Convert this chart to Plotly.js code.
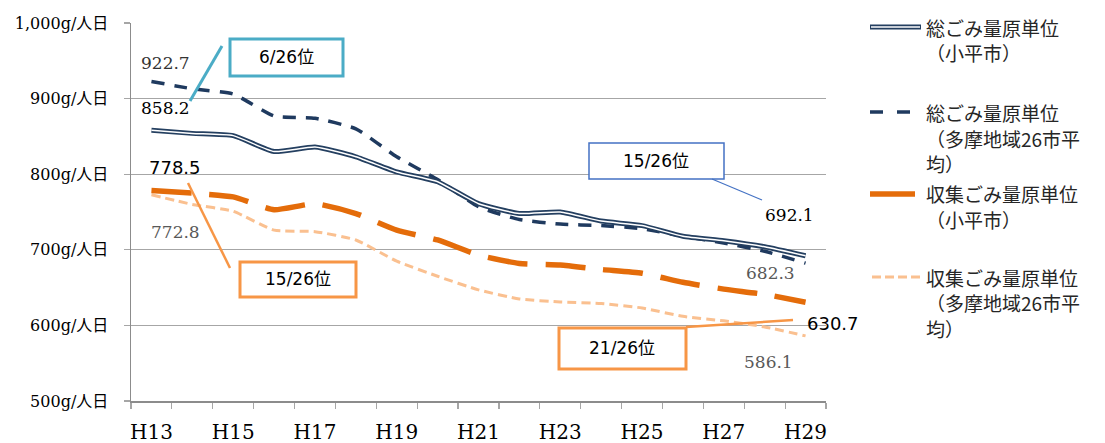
<!DOCTYPE html>
<html>
<head>
<meta charset="utf-8">
<script src="https://cdn.plot.ly/plotly-3.0.1.min.js"></script>
<style>html,body{margin:0;padding:0;background:#fff;}#chart{width:1105px;height:443px;}</style>
</head>
<body>
<div id="chart"></div>
<script>
// ---- data ----
const categories = ['H13','H14','H15','H16','H17','H18','H19','H20','H21','H22','H23','H24','H25','H26','H27','H28','H29'];
const xTickLabels = ['H13','','H15','','H17','','H19','','H21','','H23','','H25','','H27','','H29'];
const yTickVals = [500, 600, 700, 800, 900, 1000];
const yTickLabels = ['500g/人日','600g/人日','700g/人日','800g/人日','900g/人日','1,000g/人日'];

const totalKodaira   = [858.2, 854, 851, 830, 836, 823, 803, 790, 761, 748, 750, 738, 732, 718, 712, 704, 692.1];
const totalTama      = [922.7, 913, 906, 877, 874, 860, 823, 793, 757, 740, 734, 732, 728, 718, 709, 698, 682.3];
const collectKodaira = [778.5, 775, 770, 753, 761, 748, 726, 713, 693, 682, 680, 674, 669, 657, 648, 641, 630.7];
const collectTama    = [772.8, 760, 751, 726, 724, 713, 685, 665, 647, 635, 631, 629, 623, 612, 606, 598, 586.1];

const seriesNames = [
  ['総ごみ量原単位', '（小平市）'],
  ['総ごみ量原単位', '（多摩地域26市平', '均）'],
  ['収集ごみ量原単位', '（小平市）'],
  ['収集ごみ量原単位', '（多摩地域26市平', '均）']
];
const rankLabels = ['6/26位', '15/26位', '15/26位', '21/26位'];

// ---- styling ----
const NAVY = '#243F60', NAVY_D = '#1F3A5F', ORANGE = '#E46C0A', LORANGE = '#FAC090';
const TEAL = '#4BACC6', BLUE = '#4472C4', ORANGE_BOX = '#F79646';
const L = 131, R = 826, T = 23, B = 401;
const px = x => (x - L) / (R - L);
const py = y => (B - y) / (B - T);
const SERIF = 'DejaVu Serif, Liberation Serif, Noto Sans CJK JP, serif';
const SANS = 'DejaVu Sans, Noto Sans CJK JP, sans-serif';
const JP = 'Noto Sans CJK JP, sans-serif';
const shp = {shape: 'spline', smoothing: 0.5};
const last = a => a[a.length - 1];

const traces = [
  {x: categories, y: collectTama, mode: 'lines', line: Object.assign({color: LORANGE, width: 3, dash: '9px,5px'}, shp)},
  {x: categories, y: collectKodaira, mode: 'lines', line: Object.assign({color: ORANGE, width: 5.5, dash: '40px,18px'}, shp)},
  {x: categories, y: totalTama, mode: 'lines', line: Object.assign({color: NAVY_D, width: 3.5, dash: '13px,10px'}, shp)},
  {x: categories, y: totalKodaira, mode: 'lines', line: Object.assign({color: NAVY, width: 5}, shp)},
  {x: categories, y: totalKodaira, mode: 'lines', line: Object.assign({color: '#FFFFFF', width: 1.5}, shp)}
];

function txt(text, x, y, opts) {
  return Object.assign({
    text: text, xref: 'paper', yref: 'paper', x: px(x), y: py(y),
    xanchor: 'left', yanchor: 'middle', showarrow: false,
    font: {family: SERIF, size: 17, color: '#000'}
  }, opts || {});
}

const annotations = [
  txt(totalTama[0].toFixed(1), 139, 63, {font: {family: SERIF, size: 17, color: '#333333'}}),
  txt(totalKodaira[0].toFixed(1), 139, 108),
  txt(collectKodaira[0].toFixed(1), 147, 167, {font: {family: SANS, size: 18, color: '#000'}}),
  txt(collectTama[0].toFixed(1), 149, 232, {font: {family: SERIF, size: 17, color: '#595959'}}),
  txt(last(totalKodaira).toFixed(1), 763, 215),
  txt(last(totalTama).toFixed(1), 744, 273, {font: {family: SERIF, size: 17, color: '#595959'}}),
  txt(last(collectKodaira).toFixed(1), 805, 323, {font: {family: SANS, size: 18, color: '#000'}}),
  txt(last(collectTama).toFixed(1), 742, 362, {font: {family: SERIF, size: 17, color: '#595959'}}),
  txt(rankLabels[0], 286, 57, {xanchor: 'center', font: {family: SANS, size: 17, color: '#000'}}),
  txt(rankLabels[1], 656, 161, {xanchor: 'center', font: {family: SANS, size: 17, color: '#000'}}),
  txt(rankLabels[2], 298, 279, {xanchor: 'center', font: {family: SANS, size: 17, color: '#000'}}),
  txt(rankLabels[3], 622, 348, {xanchor: 'center', font: {family: SANS, size: 17, color: '#000'}})
];

// legend text
const legendRows = [[27, 52], [112, 138, 163], [194, 219], [277, 302, 328]];
seriesNames.forEach((lines, i) => {
  lines.forEach((t, j) => {
    annotations.push(txt(t, 924, legendRows[i][j], {font: {family: JP, size: 19, color: '#262626'}}));
  });
});

function seg(x0, y0, x1, y1, color, width, dash) {
  return {type: 'line', xref: 'paper', yref: 'paper', x0: px(x0), y0: py(y0), x1: px(x1), y1: py(y1),
          line: {color: color, width: width, dash: dash || 'solid'}, layer: 'above'};
}
function box(x0, y0, x1, y1, color, width) {
  return {type: 'rect', xref: 'paper', yref: 'paper', x0: px(x0), y0: py(y0), x1: px(x1), y1: py(y1),
          line: {color: color, width: width}, fillcolor: '#FFFFFF', layer: 'above'};
}

const shapes = [
  box(230, 39, 343, 76, TEAL, 3),
  seg(190, 101, 222, 46, TEAL, 3),
  box(589, 143, 724, 179, BLUE, 1.5),
  seg(712, 179, 762, 200, BLUE, 1.2),
  box(240, 262, 356, 297, ORANGE_BOX, 3),
  seg(188, 183, 230, 268, ORANGE_BOX, 2.5),
  box(559, 328, 686, 369, ORANGE_BOX, 3),
  seg(686, 327, 793, 320, ORANGE_BOX, 2.5),
  // legend symbols
  seg(870, 27, 921, 27, NAVY, 5),
  seg(871, 27, 920, 27, '#FFFFFF', 1.5),
  seg(870, 112, 913, 112, NAVY_D, 3.5, '13px,14px'),
  seg(870, 194, 915, 194, ORANGE, 5.5),
  seg(872, 277, 924, 277, LORANGE, 3, '9px,4px')
];

const layout = {
  width: 1105, height: 443,
  margin: {l: L, r: 1105 - R, t: T, b: 443 - B, pad: 0},
  paper_bgcolor: '#FFFFFF', plot_bgcolor: '#FFFFFF',
  showlegend: false,
  xaxis: {
    type: 'category', categoryarray: categories, range: [-0.5, 16.5],
    tickvals: categories, ticktext: xTickLabels, tickson: 'boundaries', tickangle: 0,
    ticks: 'outside', ticklen: 6, tickcolor: '#A6A6A6', tickwidth: 1.2,
    showline: true, linecolor: '#8C8C8C', linewidth: 1.5, showgrid: false, zeroline: false,
    tickfont: {family: SERIF, size: 20, color: '#000'}, ticklabelstandoff: 12
  },
  yaxis: {
    range: [500, 1000], tickvals: yTickVals, ticktext: yTickLabels,
    showgrid: true, gridcolor: '#A6A6A6', gridwidth: 1.2,
    ticks: 'outside', ticklen: 6, tickcolor: '#A6A6A6', tickwidth: 1.2,
    showline: true, linecolor: '#8C8C8C', linewidth: 1.5, zeroline: false,
    tickfont: {family: SERIF, size: 16, color: '#000'}, ticklabelstandoff: 12
  },
  annotations: annotations,
  shapes: shapes
};

Plotly.newPlot('chart', traces, layout, {staticPlot: true, displayModeBar: false});
</script>
</body>
</html>
